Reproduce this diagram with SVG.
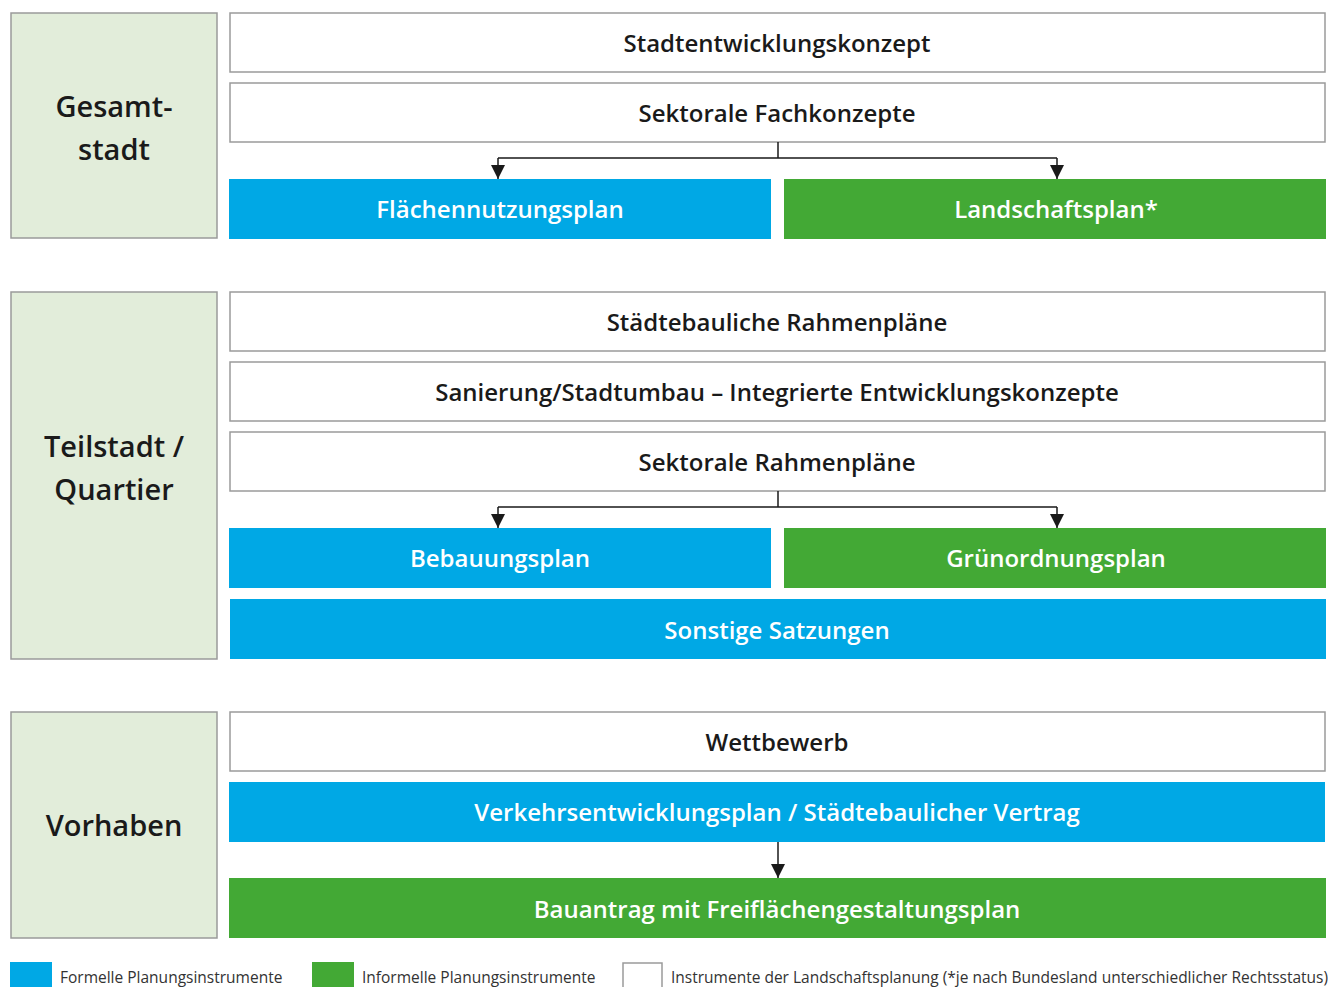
<svg xmlns="http://www.w3.org/2000/svg" width="1328" height="987" viewBox="0 0 1328 987">
<style>
.lvl{fill:#e2edda;stroke:#9a9a9a;stroke-width:1.5}
.wb{fill:#fff;stroke:#9a9a9a;stroke-width:1.5}
.bl{fill:#00a8e5}
.gr{fill:#43a935}
.lt{font-family:"Open Sans","Noto Sans",sans-serif;font-size:29px;font-weight:600;fill:#1a1a1a;text-anchor:middle}
.t{font-family:"Open Sans","Noto Sans",sans-serif;font-size:24px;font-weight:600;fill:#1a1a1a;text-anchor:middle}
.tw{font-family:"Open Sans","Noto Sans",sans-serif;font-size:24px;font-weight:600;fill:#fff;text-anchor:middle}
.lg{font-family:"Open Sans","Noto Sans",sans-serif;font-size:15.5px;fill:#333}
.c{fill:none;stroke:#1a1a1a;stroke-width:1.5}
</style>
<defs>
<marker id="ah" viewBox="0 0 10 10" refX="10" refY="5" markerWidth="14" markerHeight="14" markerUnits="userSpaceOnUse" orient="auto">
<path d="M0,0 L10,5 L0,10 z" fill="#1a1a1a"/>
</marker>
</defs>
<rect width="1328" height="987" fill="#fff"/>

<g id="gesamtstadt">
<rect class="lvl" x="11" y="13" width="206" height="225"/>
<text class="lt" x="114" y="117">Gesamt-</text>
<text class="lt" x="114" y="160">stadt</text>
</g>
<g id="stadtentwicklungskonzept">
<rect class="wb" x="230" y="13" width="1095" height="59"/>
<text class="t" x="777" y="52">Stadtentwicklungskonzept</text>
</g>
<g id="sektorale-fachkonzepte">
<rect class="wb" x="230" y="83" width="1095" height="59"/>
<text class="t" x="777" y="122">Sektorale Fachkonzepte</text>
</g>
<g id="flaechennutzungsplan">
<rect class="bl" x="229" y="179" width="542" height="60"/>
<text class="tw" x="500" y="218">Flächennutzungsplan</text>
</g>
<g id="landschaftsplan">
<rect class="gr" x="784" y="179" width="542" height="60"/>
<text class="tw" x="1056" y="218">Landschaftsplan*</text>
</g>

<g id="teilstadt">
<rect class="lvl" x="11" y="292" width="206" height="367"/>
<text class="lt" x="114" y="457">Teilstadt /</text>
<text class="lt" x="114" y="500">Quartier</text>
</g>
<g id="staedtebauliche-rahmenplaene">
<rect class="wb" x="230" y="292" width="1095" height="59"/>
<text class="t" x="777" y="331">Städtebauliche Rahmenpläne</text>
</g>
<g id="sanierung">
<rect class="wb" x="230" y="362" width="1095" height="59"/>
<text class="t" x="777" y="401">Sanierung/Stadtumbau – Integrierte Entwicklungskonzepte</text>
</g>
<g id="sektorale-rahmenplaene">
<rect class="wb" x="230" y="432" width="1095" height="59"/>
<text class="t" x="777" y="471">Sektorale Rahmenpläne</text>
</g>
<g id="bebauungsplan">
<rect class="bl" x="229" y="528" width="542" height="60"/>
<text class="tw" x="500" y="567">Bebauungsplan</text>
</g>
<g id="gruenordnungsplan">
<rect class="gr" x="784" y="528" width="542" height="60"/>
<text class="tw" x="1056" y="567">Grünordnungsplan</text>
</g>
<g id="sonstige-satzungen">
<rect class="bl" x="230" y="599" width="1096" height="60"/>
<text class="tw" x="777" y="639">Sonstige Satzungen</text>
</g>

<g id="vorhaben">
<rect class="lvl" x="11" y="712" width="206" height="226"/>
<text class="lt" x="114" y="836">Vorhaben</text>
</g>
<g id="wettbewerb">
<rect class="wb" x="230" y="712" width="1095" height="59"/>
<text class="t" x="777" y="751">Wettbewerb</text>
</g>
<g id="verkehrsentwicklungsplan">
<rect class="bl" x="229" y="782" width="1096" height="60"/>
<text class="tw" x="777" y="821">Verkehrsentwicklungsplan / Städtebaulicher Vertrag</text>
</g>
<g id="bauantrag">
<rect class="gr" x="229" y="878" width="1097" height="60"/>
<text class="tw" x="777" y="918">Bauantrag mit Freiflächengestaltungsplan</text>
</g>

<g id="connectors">
<path class="c" d="M778,142 V158 M498,158 H1057"/>
<path class="c" d="M498,158 V179" marker-end="url(#ah)"/>
<path class="c" d="M1057,158 V179" marker-end="url(#ah)"/>
<path class="c" d="M778,491 V507 M498,507 H1057"/>
<path class="c" d="M498,507 V528" marker-end="url(#ah)"/>
<path class="c" d="M1057,507 V528" marker-end="url(#ah)"/>
<path class="c" d="M778,842 V878" marker-end="url(#ah)"/>
</g>

<g id="legend">
<rect class="bl" x="10" y="962" width="42" height="25"/>
<text class="lg" x="60" y="983">Formelle Planungsinstrumente</text>
<rect class="gr" x="312" y="962" width="42" height="25"/>
<text class="lg" x="362" y="983">Informelle Planungsinstrumente</text>
<rect class="wb" x="623" y="963" width="39" height="26"/>
<text class="lg" x="671" y="983">Instrumente der Landschaftsplanung (*je nach Bundesland unterschiedlicher Rechtsstatus)</text>
</g>
</svg>
